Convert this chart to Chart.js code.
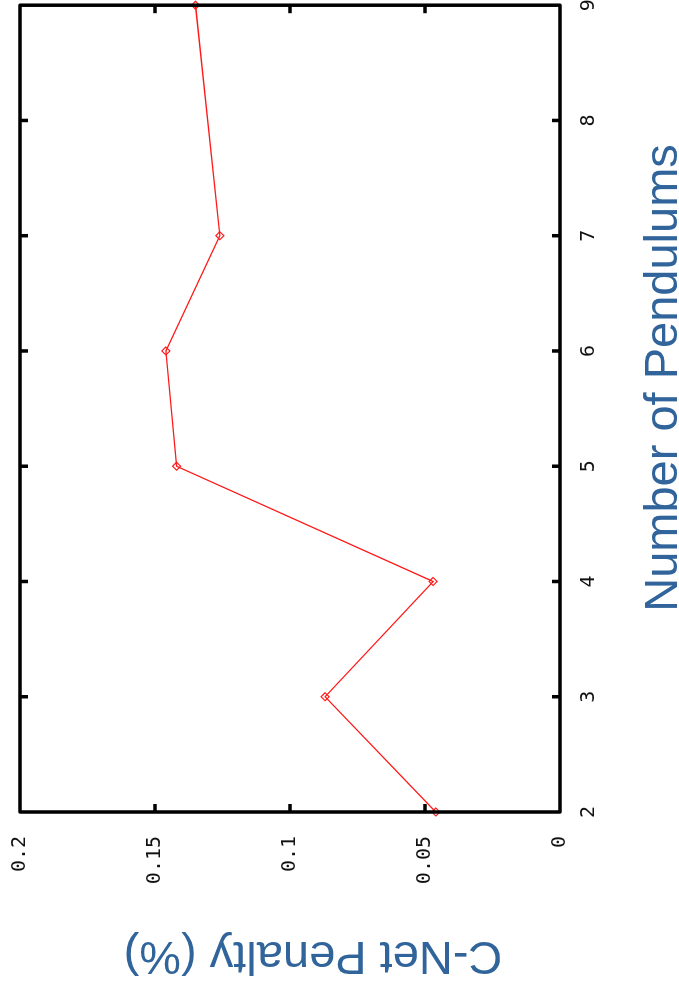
<!DOCTYPE html>
<html>
<head>
<meta charset="utf-8">
<script src="https://cdn.jsdelivr.net/npm/chart.js@4"></script>
<style>
  html, body { margin: 0; padding: 0; background: #fff; overflow: hidden; }
  body { width: 679px; height: 996px; position: relative; }
  /* the whole plot is laid out landscape and turned a quarter turn counter-clockwise */
  #turn {
    position: absolute; left: 0; top: 0;
    width: 996px; height: 679px;
    transform-origin: 0 0;
    transform: translate(0px, 996px) rotate(-90deg);
  }
  canvas { display: block; }
</style>
</head>
<body>
<div id="turn"><canvas id="c" width="996" height="679"></canvas></div>
<script>
// Penalty measured for each pendulum count (no run at 8 pendulums)
const pendulums = [2, 3, 4, 5, 6, 7, 9];
const penalty = [0.046, 0.087, 0.047, 0.142, 0.146, 0.126, 0.135];

const pendulumTicks = [2, 3, 4, 5, 6, 7, 8, 9];
const penaltyTicks = ['0', '0.05', '0.1', '0.15', '0.2'];

const xTitle = 'Number of Pendulums';
const yTitle = 'C-Net Penalty (%)';

const tickFont = { family: '"DejaVu Sans Mono", monospace', size: 20 };
const titleFont = '47px "Liberation Sans", Arial, sans-serif';
const titleColor = '#30649a';

// box around the plot, ticks pointing inward on all four sides, and the axis titles
const framePlugin = {
  id: 'frame',
  afterDraw(chart) {
    const ctx = chart.ctx;
    const { left, right, top, bottom } = chart.chartArea;
    const xs = chart.scales.x, ys = chart.scales.y;
    const len = 8;
    ctx.save();
    ctx.strokeStyle = '#000';
    ctx.lineWidth = 3.5;
    ctx.lineJoin = 'round';
    ctx.beginPath();
    pendulumTicks.forEach(v => {
      if (v === xs.min || v === xs.max) return;
      const px = xs.getPixelForValue(v);
      ctx.moveTo(px, bottom); ctx.lineTo(px, bottom - len);
      ctx.moveTo(px, top); ctx.lineTo(px, top + len);
    });
    penaltyTicks.forEach(t => {
      const v = parseFloat(t);
      if (v === ys.min || v === ys.max) return;
      const py = ys.getPixelForValue(v);
      ctx.moveTo(left, py); ctx.lineTo(left + len, py);
      ctx.moveTo(right, py); ctx.lineTo(right - len, py);
    });
    ctx.stroke();
    ctx.strokeRect(left, top, right - left, bottom - top);

    ctx.fillStyle = titleColor;
    ctx.font = titleFont;
    ctx.textAlign = 'center';
    ctx.textBaseline = 'alphabetic';
    ctx.fillText(xTitle, 618, 677);
    ctx.translate(54, 313);
    ctx.rotate(-Math.PI / 2);
    ctx.fillText(yTitle, 0, 0);
    ctx.restore();
  }
};

new Chart(document.getElementById('c'), {
  type: 'line',
  data: {
    datasets: [{
      data: pendulums.map((p, i) => ({ x: p, y: penalty[i] })),
      borderColor: '#ff1a1a',
      borderWidth: 1.3,
      pointStyle: 'rectRot',
      pointRadius: 4,
      pointBorderWidth: 1.2,
      pointBorderColor: '#ff1a1a',
      pointBackgroundColor: 'rgba(255,255,255,0)',
      tension: 0,
      clip: 6
    }]
  },
  options: {
    responsive: false,
    animation: false,
    devicePixelRatio: 1,
    layout: { padding: { top: 20, right: 5, bottom: 0, left: 0 } },
    plugins: { legend: { display: false }, tooltip: { enabled: false } },
    scales: {
      x: {
        type: 'linear',
        min: 2, max: 9,
        afterBuildTicks: s => { s.ticks = pendulumTicks.map(v => ({ value: v })); },
        ticks: { color: '#111', font: tickFont, padding: 17, maxRotation: 0,
                 callback: v => String(v) },
        grid: { display: false, drawTicks: false },
        border: { display: false },
        afterFit: s => { s.height = 119; s.paddingLeft = 0; s.paddingRight = 0; }
      },
      y: {
        min: 0, max: 0.2,
        afterBuildTicks: s => { s.ticks = penaltyTicks.map(t => ({ value: parseFloat(t) })); },
        ticks: { color: '#111', font: tickFont, padding: 24,
                 callback: (v, i) => penaltyTicks[i] },
        grid: { display: false, drawTicks: false },
        border: { display: false },
        afterFit: s => { s.width = 184; s.paddingTop = 0; s.paddingBottom = 0; }
      }
    }
  },
  plugins: [framePlugin]
});
</script>
</body>
</html>
